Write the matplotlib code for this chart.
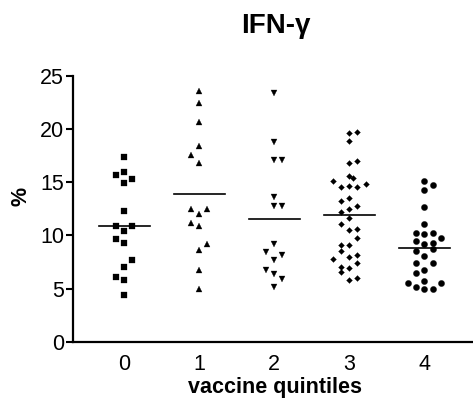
import numpy as np
import matplotlib.pyplot as plt

plt.rcParams['font.family'] = ['Liberation Sans', 'DejaVu Sans']

# values, one list per vaccine quintile
q0 = [17.4, 16.0, 15.7, 15.3, 14.9, 12.3, 10.9, 10.9, 10.45, 9.65, 9.25, 7.7, 7.05, 6.1, 5.85, 4.4]
q1 = [23.6, 22.45, 20.65, 18.4, 17.55, 16.8, 12.45, 12.0, 12.45, 11.15, 10.85, 9.2, 8.6, 6.8, 5.0]
q2 = [23.4, 18.75, 17.05, 17.05, 13.6, 12.75, 12.75, 9.2, 8.45, 7.7, 8.15, 6.8, 6.4, 5.9, 5.2]
q3 = [19.65, 19.7, 18.9, 16.8, 17.0, 15.55, 15.35, 15.1, 14.55, 14.6, 14.55, 14.8,
      13.2, 13.55, 12.2, 12.45, 12.75, 11.65, 11.05, 10.55, 10.65, 9.8, 9.1, 9.1,
      8.55, 8.0, 8.2, 7.8, 7.45, 7.05, 6.95, 6.6, 5.85, 6.05]
q4 = [15.1, 14.7, 14.25, 12.7, 11.05, 10.25, 10.1, 10.25, 9.8, 9.5, 9.2, 9.3, 8.55,
      8.7, 8.05, 7.45, 7.45, 6.8, 6.45, 5.75, 5.55, 5.5, 5.2, 4.95, 4.95]

# column slot of each point in the scatter (left/right of the centre)
s0 = [0, 0, -1, 1, 0, 0, -1, 1, 0, -1, 0, 1, 0, -1, 0, 0]
s1 = [0, 0, 0, 0, -1, 0, -1, 0, 1, -1, 0, 1, 0, 0, 0]
s2 = [0, 0, 0, 1, 0, 0, 1, 0, -1, 0, 1, -1, 0, 1, 0]
s3 = [0, 1, 0, 0, 1, 0, 0.5, -2, -1, 0, 1, 2, -1, 0, -1, 0, 1, 0, -1, 0, 1, 1,
      -1, 0, -1, 0, 1, -2, 1, -1, 0, -1, 0, 1]
s4 = [0, 1, 0, 0, 0, -1, 0, 1, 2, -1, 0, 1, -1, 1, 0, -1, 1, 0, -1, 0, -2, 2, -1, 0, 1]

gruppen = [q0, q1, q2, q3, q4]
sloty = [s0, s1, s2, s3, s4]
znaczniki = ['s', '^', 'v', 'D', 'o']
rozmiary = [4.3, 4.6, 4.6, 3.0, 4.5]
etykiety = ['0', '1', '2', '3', '4']

fig = plt.figure(figsize=(4.73, 4.04), dpi=100)
ax = fig.add_axes([0.1543, 0.1535, 0.8457, 0.6591])

krok = 0.111
for i, (wart, sl) in enumerate(zip(gruppen, sloty)):
    x = i + np.array(sl) * krok
    ax.plot(x, wart, linestyle='none', marker=znaczniki[i], ms=rozmiary[i],
            color='black', mec='black', mew=0.2)
    m = np.mean(wart)  # pozioma kreska = średnia
    ax.plot([i - 0.34, i + 0.34], [m, m], color='black', lw=1.2)

ax.set_xlim(-0.68, 4.65)
ax.set_ylim(0, 25)
ax.set_yticks([0, 5, 10, 15, 20, 25])
ax.set_xticks(range(5))
ax.set_xticklabels(etykiety)

for s in ['top', 'right']:
    ax.spines[s].set_visible(False)
for s in ['left', 'bottom']:
    ax.spines[s].set_linewidth(1.6)

ax.tick_params(axis='y', length=5, width=1.5, labelsize=15.5, pad=1.5)
ax.tick_params(axis='x', length=0, labelsize=15.5, pad=9)

ax.set_xlabel('vaccine quintiles', fontsize=15.5, fontweight='bold')
ax.xaxis.set_label_coords(0.505, -0.13)
ax.set_ylabel('%', fontsize=15.5, fontweight='bold')
ax.yaxis.set_label_coords(-0.104, 0.545)

fig.text(276 / 473, 1 - 33.3 / 404, 'IFN-γ', fontsize=20, fontweight='bold',
         ha='center', va='baseline')

plt.savefig('out.png', dpi=100)
